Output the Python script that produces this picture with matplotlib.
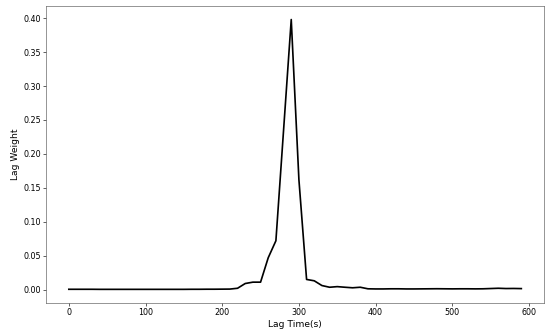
import numpy as np
import matplotlib
matplotlib.use("Agg")
import matplotlib.pyplot as plt

# Lag times (s) and weights
lag_time = np.arange(0, 600, 10)
lag_weight = [
    0.0005, 0.0005, 0.0005, 0.0005, 0.0004, 0.0004, 0.0004, 0.0004, 0.0004, 0.0004,
    0.0004, 0.0004, 0.0004, 0.0004, 0.0004, 0.0004, 0.0005, 0.0005, 0.0006, 0.0006,
    0.0007, 0.0008, 0.002, 0.009, 0.011, 0.011, 0.047, 0.072, 0.235, 0.398,
    0.162, 0.015, 0.013, 0.006, 0.0035, 0.0044, 0.0035, 0.0027, 0.0035, 0.0012,
    0.001, 0.001, 0.0012, 0.0012, 0.001, 0.001, 0.0011, 0.0012, 0.0013, 0.0012,
    0.0011, 0.0012, 0.0012, 0.0011, 0.0012, 0.0016, 0.002, 0.0016, 0.0017, 0.0015,
]

# 10 x 6.09 in at 55 dpi -> 550 x 335 px
fig, ax = plt.subplots(figsize=(10, 335 / 55), dpi=55)
ax.plot(lag_time, lag_weight, color="black", linewidth=2.2)
ax.set_xlabel("Lag Time(s)", fontsize=12)
ax.set_ylabel("Lag Weight", fontsize=12)
ax.set_yticks(np.arange(0, 0.41, 0.05))
ax.tick_params(labelsize=10.5)
for s in ax.spines.values():
    s.set_color("#555555")

fig.subplots_adjust(left=0.084, right=0.989, top=0.982, bottom=0.096)
fig.savefig("out.png", dpi=55)
